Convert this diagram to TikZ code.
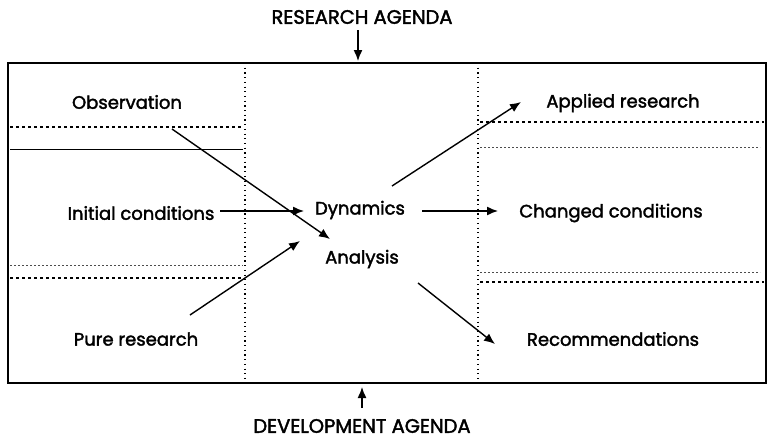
\documentclass[tikz,border=0pt]{standalone}
\usepackage{fontspec}
\setmainfont{Poppins}
\newfontfamily\lblfont{Poppins}[FakeBold=2]
\usetikzlibrary{arrows.meta}
\begin{document}
\begin{tikzpicture}[x=1pt,y=-1pt,
  lbl/.style={font=\lblfont\fontsize{18}{20}\selectfont, inner sep=1pt},
  caplbl/.style={font=\lblfont\fontsize{19.5}{21}\selectfont, inner sep=1pt},
  arr/.style={line width=1.4pt, -{Latex[length=11pt,width=9pt]}},
  sep/.style={line width=1.1pt, dash pattern=on 3pt off 3pt},
  faint/.style={line width=0.6pt, dash pattern=on 2pt off 2pt, black!70},
  vdot/.style={line width=1.2pt, dash pattern=on 1.2pt off 3.5pt}]
\useasboundingbox (0,0) rectangle (769,439);
% outer frame
\draw[line width=1.8pt] (8,63) rectangle (766,383);
% vertical dotted dividers
\draw[vdot] (245,63) -- (245,383);
\draw[vdot] (478,63) -- (478,383);
% horizontal separators left
\draw[sep] (10,127) -- (243,127);
\draw[line width=0.9pt] (10,149) -- (243,149);
\draw[faint] (10,265) -- (243,265);
\draw[sep] (10,278) -- (243,278);
% horizontal separators right
\draw[sep] (480,122) -- (764,122);
\draw[faint] (480,147) -- (760,147);
\draw[faint] (480,272) -- (760,272);
\draw[sep] (480,282) -- (764,282);
% labels
\node[lbl] (obs) at (127,102) {Observation};
\node[lbl] (ini) at (141,213) {Initial conditions};
\node[lbl] (pur) at (136,339) {Pure research};
\node[lbl] (dyn) at (360,210) {Dynamics};
\node[lbl] (ana) at (362,259) {Analysis};
\node[lbl] (app) at (623,103) {Applied research};
\node[lbl] (chg) at (611,213) {Changed conditions};
\node[lbl] (rec) at (613,339) {Recommendations};
\node[caplbl] (ra) at (362,17) {RESEARCH AGENDA};
\node[caplbl] (da) at (362,426) {DEVELOPMENT AGENDA};
% connector endpoints
\coordinate (obsS) at (172,129);
\coordinate (anaT) at (330,239);
\coordinate (iniS) at (220,211);
\coordinate (dynT) at (304,211);
\coordinate (purS) at (190,315);
\coordinate (purT) at (300,241);
\coordinate (dynS) at (422,211);
\coordinate (chgT) at (498,211);
\coordinate (appS) at (392,186);
\coordinate (appT) at (521,102);
\coordinate (recS) at (418,283);
\coordinate (recT) at (495,344);
\coordinate (raS) at (358,30);
\coordinate (raT) at (358,61);
\coordinate (daS) at (362,408);
\coordinate (daT) at (362,387);
% arrows
\draw[arr] (obsS) -- (anaT);
\draw[arr] (iniS) -- (dynT);
\draw[arr] (purS) -- (purT);
\draw[arr] (dynS) -- (chgT);
\draw[arr] (appS) -- (appT);
\draw[arr] (recS) -- (recT);
\draw[arr] (raS) -- (raT);
\draw[arr] (daS) -- (daT);
\end{tikzpicture}
\end{document}
